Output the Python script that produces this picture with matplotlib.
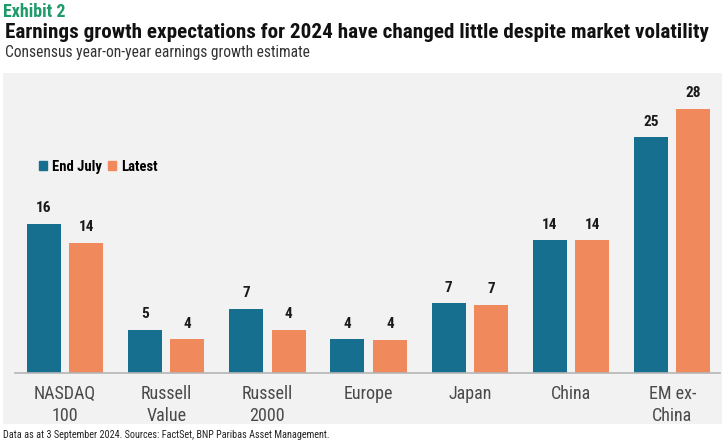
import numpy as np
import matplotlib
matplotlib.use("Agg")
from matplotlib import pyplot as plt
from matplotlib import font_manager as fm
from matplotlib.patches import Rectangle, Patch

# pick a condensed face if one is installed, else fall back
installed = set(f.name for f in fm.fontManager.ttflist)
wanted = ["Roboto Condensed", "Fira Sans Condensed", "PT Sans Narrow",
          "Liberation Sans Narrow", "Roboto", "DejaVu Sans"]
face = [n for n in wanted if n in installed][0]
plt.rcParams['font.family'] = [face, 'DejaVu Sans']

categories = ["NASDAQ\n100", "Russell\nValue", "Russell\n2000", "Europe", "Japan", "China", "EM ex-\nChina"]
end_july = [15.8, 4.55, 6.8, 3.55, 7.4, 14.05, 25.0]
latest = [13.8, 3.55, 4.55, 3.5, 7.2, 14.05, 28.0]
end_july_labels = ["16", "5", "7", "4", "7", "14", "25"]
latest_labels = ["14", "4", "4", "4", "7", "14", "28"]

blue = "#166f8f"
orange = "#f08a5d"
panel = "#f2f2f2"
W, H = 725, 443

fig = plt.figure(figsize=(7.25, 4.43), dpi=100)
fig.patch.set_facecolor("white")
fig.patches.append(Rectangle((3 / W, 1 - 424 / H), 719 / W, 351 / H,
                             transform=fig.transFigure, facecolor=panel,
                             edgecolor="none", zorder=-5))

ax = fig.add_axes([15 / W, 1 - 372.7 / H, 705 / W, 292.7 / H])
ax.set_zorder(2)
ax.set_facecolor("none")
x = np.arange(len(categories))
w = 0.336
b1 = ax.bar(x - 0.21, end_july, w, color=blue)
b2 = ax.bar(x + 0.21, latest, w, color=orange)
for bars, labs in ((b1, end_july_labels), (b2, latest_labels)):
    for rect, lab in zip(bars, labs):
        ax.annotate(lab, (rect.get_x() + rect.get_width() / 2, rect.get_height()),
                    xytext=(0, 6), textcoords="offset points", ha="center",
                    va="bottom", fontsize=11, fontweight="bold", color="#1a1a1a")

ax.set_xlim(-0.494, 6.472)
ax.set_ylim(0, 31.04)
ax.set_yticks([])
ax.set_xticks(x)
ax.set_xticklabels(categories, fontsize=13, color="#4a4a4a", linespacing=1.25)
ax.tick_params(axis="x", length=0, pad=9)
for s in ["top", "right", "left"]:
    ax.spines[s].set_visible(False)
ax.spines["bottom"].set_color("#b5b5b5")
ax.spines["bottom"].set_linewidth(1.2)

fig.legend(handles=[Patch(color=blue, label="End July"), Patch(color=orange, label="Latest")],
           loc="center left", bbox_to_anchor=(39 / W, 1 - 167 / H), ncol=2,
           frameon=False, borderpad=0, borderaxespad=0,
           handlelength=0.55, handleheight=0.55, handletextpad=0.35,
           columnspacing=0.4, prop={"family": [face, "DejaVu Sans"], "size": 10.5, "weight": "bold"})

fig.text(3 / W, 1 - 12 / H, "Exhibit 2", fontsize=13, fontweight="bold",
         color="#1f9a6b", va="center")
fig.text(5 / W, 1 - 33 / H, "Earnings growth expectations for 2024 have changed little despite market volatility",
         fontsize=15.2, fontweight="bold", color="#111111", va="center")
fig.text(5 / W, 1 - 53 / H, "Consensus year-on-year earnings growth estimate",
         fontsize=11.2, color="#333333", va="center")
fig.text(3 / W, 1 - 435 / H, "Data as at 3 September 2024. Sources: FactSet, BNP Paribas Asset Management.",
         fontsize=7.3, color="#222222", va="center")

fig.savefig("out.png", dpi=100)
